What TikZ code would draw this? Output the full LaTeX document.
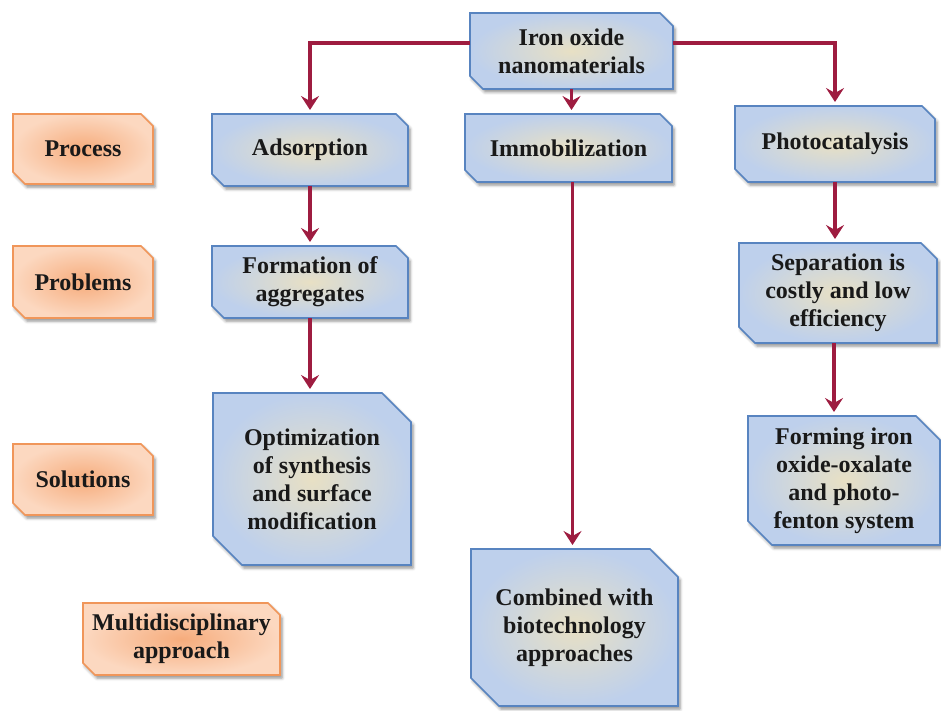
\documentclass[tikz,border=0pt]{standalone}
\usepackage{fontspec}
\setmainfont{Liberation Serif}
\usetikzlibrary{calc}
\usetikzlibrary{arrows.meta}
\usetikzlibrary{backgrounds}
\usetikzlibrary{shadows.blur}

\definecolor{blueline}{RGB}{88,132,192}
\definecolor{blueinner}{RGB}{232,224,196}
\definecolor{blueouter}{RGB}{190,208,236}
\definecolor{orangeline}{RGB}{240,150,90}
\definecolor{orangeinner}{RGB}{246,172,124}
\definecolor{orangeouter}{RGB}{252,216,192}
\definecolor{linkred}{RGB}{158,28,64}

\begin{document}
\begin{tikzpicture}[%
  >={Stealth[length=7pt,width=9pt,inset=2.5pt]},
  x=0.5pt, y=-0.5pt,
  txt/.style={font=\bfseries\fontsize{12}{14}\selectfont, text=black!90,
    align=center, inner sep=0pt, outer sep=0pt},
  link/.style={->, draw=linkred, line width=1.8pt, shorten >=2pt},
  snipshadow/.style={blur shadow={shadow xshift=1pt, shadow yshift=-1.5pt,
    shadow opacity=45, shadow blur radius=1.5pt}},
  bluebox/.style={snipshadow, draw=blueline, line width=0.8pt,
    inner color=blueinner, outer color=blueouter},
  orangebox/.style={snipshadow, draw=orangeline, line width=0.8pt,
    inner color=orangeinner, outer color=orangeouter},
]

  \useasboundingbox (0,0) rectangle (941,711);

  % row labels
  \node[txt, minimum width=70pt, minimum height=35pt] (process) at (83,149) {Process};
  \node[txt, minimum width=70pt, minimum height=36pt] (problems) at (83,282) {Problems};
  \node[txt, minimum width=70pt, minimum height=35.5pt] (solutions) at (83,479.5) {Solutions};
  \node[txt, minimum width=98.5pt, minimum height=36pt] (multi) at (181.5,639) {Multidisciplinary\\approach};

  % flow boxes
  \node[txt, minimum width=101.5pt, minimum height=38pt] (iron) at (571.5,51) {Iron oxide\\nanomaterials};
  \node[txt, minimum width=98pt, minimum height=36pt] (adsorp) at (310,150) {Adsorption};
  \node[txt, minimum width=103.5pt, minimum height=34pt] (immob) at (568.5,148) {Immobilization};
  \node[txt, minimum width=100pt, minimum height=38pt] (photo) at (835,144) {Photocatalysis};
  \node[txt, minimum width=98pt, minimum height=36pt] (formation) at (310,282) {Formation of\\aggregates};
  \node[txt, minimum width=99pt, minimum height=50pt] (separation) at (838,293) {Separation is\\costly and low\\efficiency};
  \node[txt, minimum width=99pt, minimum height=86pt] (optim) at (312,479) {Optimization\\of synthesis\\and surface\\modification};
  \node[txt, minimum width=96pt, minimum height=64.5pt] (forming) at (844,480.5) {Forming iron\\oxide-oxalate\\and photo-\\fenton system};
  \node[txt, minimum width=103.5pt, minimum height=78.5pt] (combined) at (574.5,627.5) {Combined with\\biotechnology\\approaches};

  % snipped-corner outlines behind the text
  \begin{scope}[on background layer]
    \foreach \n/\s in {process/6, problems/6, solutions/6, multi/6} {
      \path[orangebox] (\n.north west) -- ([xshift=-\s pt]\n.north east)
        -- ([yshift=-\s pt]\n.north east) -- (\n.south east)
        -- ([xshift=\s pt]\n.south west) -- ([yshift=\s pt]\n.south west) -- cycle;
    }
    \foreach \n/\s in {iron/6.5, adsorp/6, immob/6, photo/6.5, formation/6,
                       separation/8, optim/14.5, forming/12, combined/14} {
      \path[bluebox] (\n.north west) -- ([xshift=-\s pt]\n.north east)
        -- ([yshift=-\s pt]\n.north east) -- (\n.south east)
        -- ([xshift=\s pt]\n.south west) -- ([yshift=\s pt]\n.south west) -- cycle;
    }
  \end{scope}

  \draw[link] ([yshift=4pt]iron.west) -| (adsorp.north);
  \draw[link] ([yshift=4pt]iron.east) -| (photo.north);
  \draw[link] (iron.south) -- (iron.south |- immob.north);
  \draw[link] ([xshift=2pt]immob.south) -- ([xshift=2pt]immob.south |- combined.north);
  \draw[link] (adsorp.south) -- (adsorp.south |- formation.north);
  \draw[link] (formation.south) -- (formation.south |- optim.north);
  \draw[link] (photo.south) -- (photo.south |- separation.north);
  \draw[link] ([xshift=-2pt]separation.south) -- ([xshift=-2pt]separation.south |- forming.north);

\end{tikzpicture}
\end{document}
